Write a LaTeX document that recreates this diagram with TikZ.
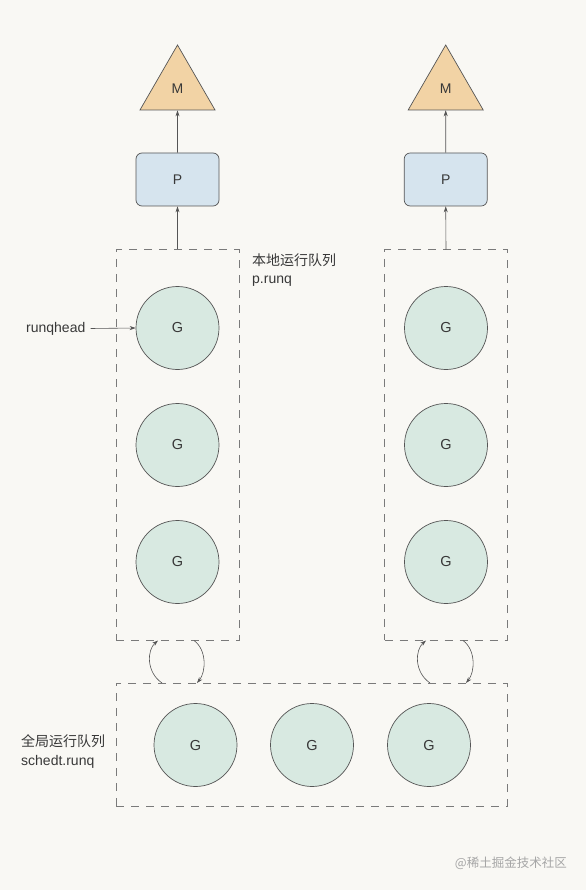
\documentclass[tikz,border=0pt]{standalone}
\usepackage{fontspec}
\setmainfont{Liberation Sans}
\newfontfamily\cjk{Noto Sans CJK SC}
\usetikzlibrary{shapes.geometric,arrows.meta}
\definecolor{bg}{HTML}{F9F8F4}
\definecolor{mfill}{HTML}{F2D3A5}
\definecolor{pfill}{HTML}{D6E4EE}
\definecolor{gfill}{HTML}{D8E9E1}
\definecolor{ln}{HTML}{555555}
\definecolor{dash}{HTML}{7A7A7A}
\definecolor{txt}{HTML}{383838}
\tikzset{
  mnode/.style={regular polygon, regular polygon sides=3, draw=ln, line width=0.7pt, fill=mfill, inner sep=0pt, minimum size=86.6pt, font=\fontsize{14}{16}\selectfont, text=txt},
  pnode/.style={rectangle, rounded corners=6pt, draw=ln, line width=0.7pt, fill=pfill, minimum width=83pt, minimum height=53pt, font=\fontsize{14}{16}\selectfont, text=txt},
  gnode/.style={circle, draw=ln, line width=0.7pt, fill=gfill, minimum size=83pt, inner sep=0pt, font=\fontsize{14.5}{16}\selectfont, text=txt},
  qbox/.style={draw=dash, line width=1pt, dash pattern=on 8pt off 7pt},
  arr/.style={draw=ln, line width=0.6pt, -{Stealth[length=6pt,width=4pt]}},
  lbl/.style={font=\fontsize{14}{16}\selectfont, text=txt, inner sep=0pt, anchor=west},
  clbl/.style={font=\cjk\fontsize{14}{16}\selectfont, text=txt, inner sep=0pt, anchor=west},
}
\begin{document}
\begin{tikzpicture}[x=1pt,y=-1pt]
\fill[bg] (0,0) rectangle (586,890);
\useasboundingbox (0,0) rectangle (586,890);

% dashed queue boxes
\node[qbox, minimum width=123pt, minimum height=390pt, inner sep=0pt] (lq) at (177.5,445) {};
\node[qbox, minimum width=123pt, minimum height=390pt, inner sep=0pt] (rq) at (446,445) {};
\node[qbox, minimum width=391pt, minimum height=123pt, inner sep=0pt] (gq) at (311.5,744.5) {};

% M and P
\node[mnode] (m1) at (177.5,88.3) {M};
\node[mnode] (m2) at (445.7,88.3) {M};
\node[pnode] (p1) at (177.5,179.5) {P};
\node[pnode] (p2) at (445.7,179.5) {P};
\draw[arr] (p1.north) -- (m1.south);
\draw[arr] (p2.north) -- (m2.south);
\draw[arr] (lq.north) -- (p1.south);
\draw[arr] (rq.north) -- (p2.south);

% G nodes
\node[gnode] (g1) at (177.5,328) {G};
\node[gnode] (g2) at (177.5,445) {G};
\node[gnode] (g3) at (177.5,562) {G};
\node[gnode] (g4) at (446,328) {G};
\node[gnode] (g5) at (446,445) {G};
\node[gnode] (g6) at (446,562) {G};
\node[gnode] (g7) at (195.5,745) {G};
\node[gnode] (g8) at (312,745) {G};
\node[gnode] (g9) at (429,745) {G};

% labels
\node[clbl] (l1) at (252,260) {本地运行队列};
\node[lbl] (l2) at (252,281) {p.runq};
\node[clbl] (l3) at (21,741) {全局运行队列};
\node[lbl] (l4) at (21,762) {schedt.runq};
\node[lbl] (rh) at (26,328.5) {runqhead};
\draw[arr] (rh.east) ++(5,0) -- (g1.west);

% curved exchange arrows
\coordinate (a1s) at (162,683);
\coordinate (a1e) at (158,640.5);
\coordinate (a2s) at (194,640.5);
\coordinate (a2e) at (197,683);
\coordinate (a3s) at (430,683);
\coordinate (a3e) at (426,640.5);
\coordinate (a4s) at (463,640.5);
\coordinate (a4e) at (466,683);
\draw[arr] (a1s) .. controls (146,672) and (147,650) .. (a1e);
\draw[arr] (a2s) .. controls (207,650) and (206,672) .. (a2e);
\draw[arr] (a3s) .. controls (414,672) and (415,650) .. (a3e);
\draw[arr] (a4s) .. controls (476,650) and (475,672) .. (a4e);

% watermark
\node[font=\cjk\fontsize{12.5}{14}\selectfont, text=black!35, inner sep=0pt, anchor=east] (wm) at (567,863) {@稀土掘金技术社区};
\end{tikzpicture}
\end{document}
